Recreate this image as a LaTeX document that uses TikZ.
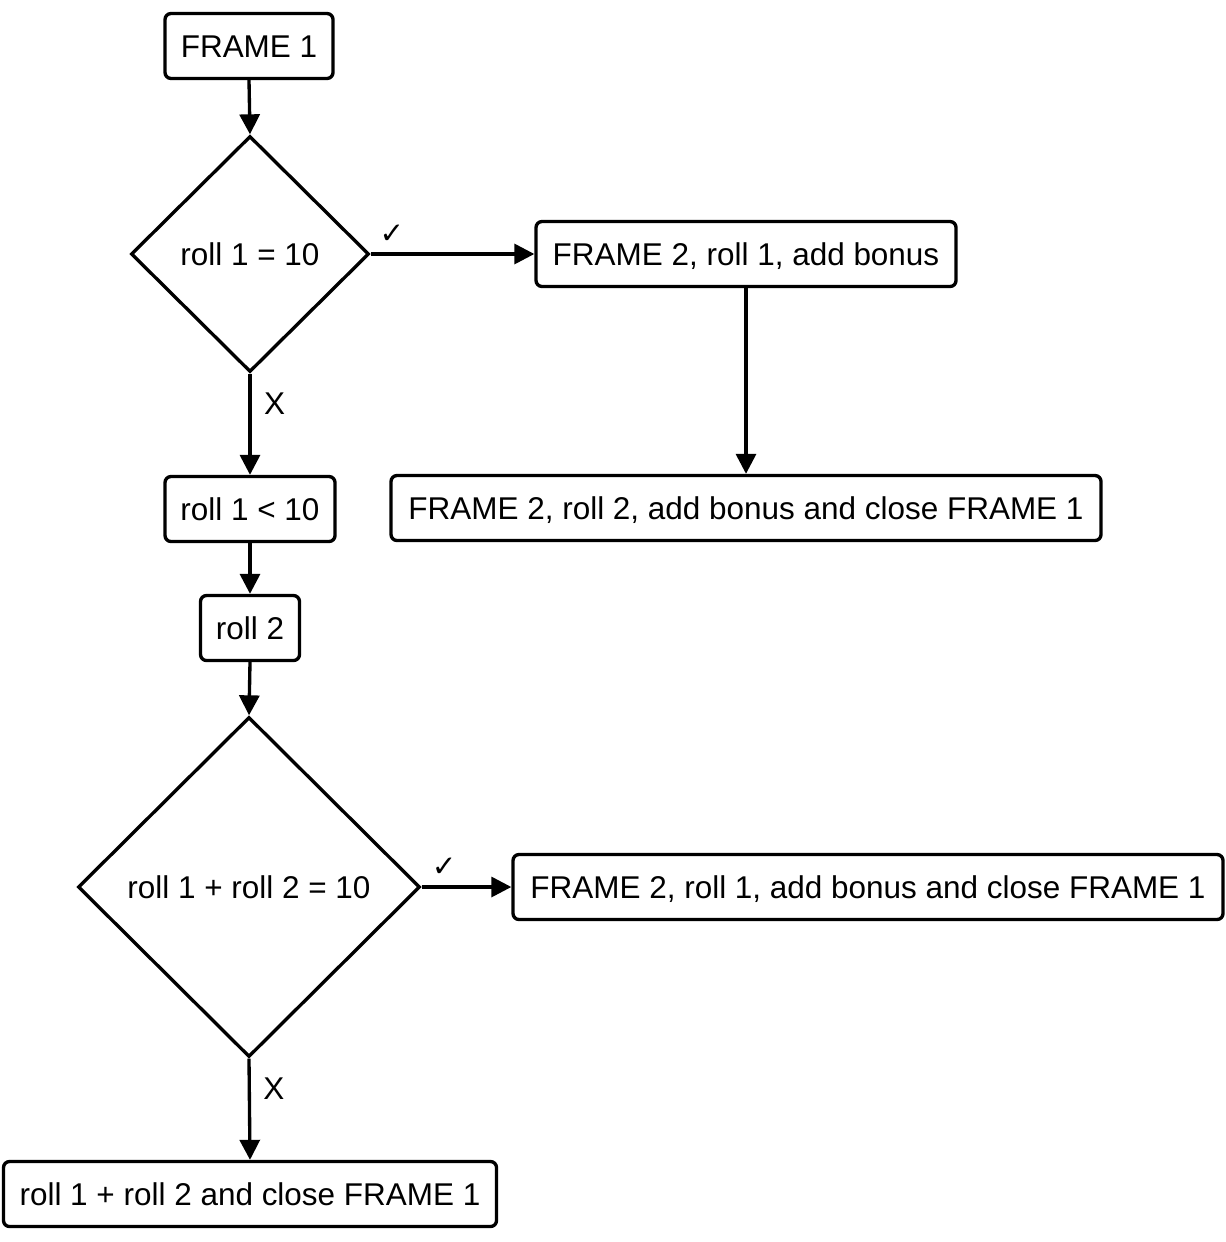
\documentclass[tikz,border=0pt]{standalone}
\usepackage{fontspec}
\setmainfont{Liberation Sans}
\newfontfamily\symfont{DejaVu Sans}
\usetikzlibrary{shapes.geometric,arrows.meta}
\begin{document}
\begin{tikzpicture}[x=0.75pt,y=-0.75pt,
  every node/.style={font=\fontsize{23.6}{28}\selectfont},
  box/.style={draw,line width=2.5pt,rounded corners=4.5pt,minimum height=48.75pt,inner sep=0pt,text height=16.9pt,text depth=0pt},
  decision/.style={draw,line width=2.5pt,diamond,inner sep=0pt,text height=16.9pt,text depth=0pt},
  flow/.style={line width=2.5pt,-{Triangle[length=15pt,width=15pt]}},
  yes/.style={font=\symfont\bfseries\fontsize{22}{26}\selectfont},
  no/.style={font=\fontsize{23.6}{28}\selectfont}]
\useasboundingbox (0,0) rectangle (1226,1242);

\node[box,minimum width=126pt] (f1) at (249,46) {FRAME 1};
\node[decision,minimum width=178.5pt,minimum height=177pt] (d1) at (250,254) {roll 1 = 10};
\node[box,minimum width=315pt] (b2) at (746,254) {FRAME 2, roll 1, add bonus};
\node[box,minimum width=532.5pt] (b3) at (746,508) {FRAME 2, roll 2, add bonus and close FRAME 1};
\node[box,minimum width=127.5pt] (r1) at (250,509) {roll 1 < 10};
\node[box,minimum width=74.25pt] (r2) at (250,628) {roll 2};
\node[decision,minimum width=256.5pt,minimum height=255pt] (d2) at (249,887) {roll 1 + roll 2 = 10};
\node[box,minimum width=532.5pt] (b4) at (868,887) {FRAME 2, roll 1, add bonus and close FRAME 1};
\node[box,minimum width=369.75pt] (b5) at (250,1194) {roll 1 + roll 2 and close FRAME 1};

\draw[flow] (f1.south) -- (d1.north);
\draw[flow] (d1.east) -- node[pos=0.13,above=3pt,yes] {✓} (b2.west);
\draw[flow] (b2.south) -- (b3.north);
\draw[flow] (d1.south) -- node[pos=0.3,right=6pt,no] {X} (r1.north);
\draw[flow] (r1.south) -- (r2.north);
\draw[flow] (r2.south) -- (d2.north);
\draw[flow] (d2.east) -- node[pos=0.25,above=3pt,yes] {✓} (b4.west);
\draw[flow] (d2.south) -- node[pos=0.3,right=6pt,no] {X} (b5.north);
\end{tikzpicture}
\end{document}
